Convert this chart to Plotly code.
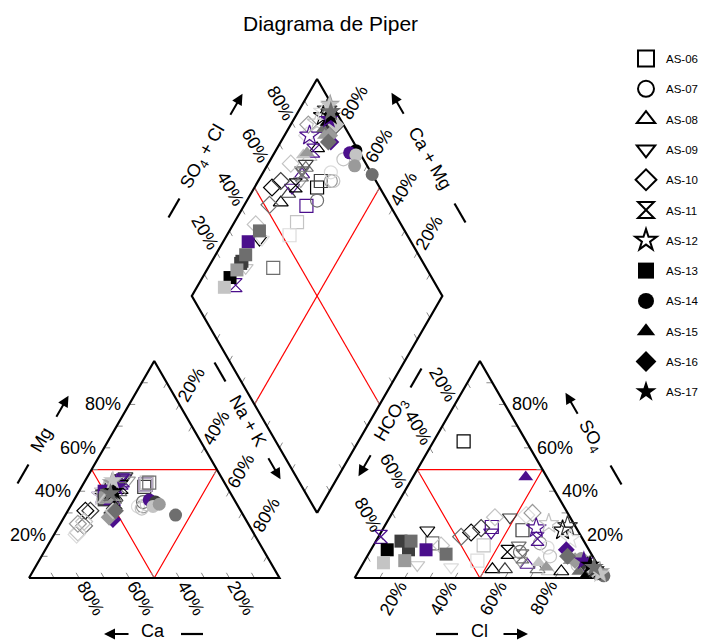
import math
import plotly.graph_objects as go

# ---------------- data (percent of meq) ----------------
SERIES = ["AS-06", "AS-07", "AS-08", "AS-09", "AS-10", "AS-11",
          "AS-12", "AS-13", "AS-14", "AS-15", "AS-16", "AS-17"]
SYMBOLS = ["square-open", "circle-open", "triangle-up-open", "triangle-down-open",
           "diamond-open", "hourglass-open", "star-open", "square", "circle",
           "triangle-up", "diamond", "star"]
CAMPAIGN_COLORS = ["#000000", "#3d3d3d", "#6e6e6e", "#9a9a9a", "#c4c4c4", "#dcdcdc", "#4b0f8c"]

CA = [[32, 33, 32, 31, 32, 30],
      [38, 40, 37, 36, 39],
      [50, 49, 49, 48, 47, 47],
      [40, 39, 38, 39, 38, 40, 38],
      [62, 60, 66, 70, 71, 68, 65],
      [40, 41, 42, 43],
      [52, 51, 50, 50, 52],
      [51, 52, 50, 50, 51, 52, 50, 51],
      [33, 34, 27, 32, 34, 31],
      [50, 52, 51, 49, 48, 47],
      [53, 50, 52, 54, 51, 50],
      [44, 45, 47, 46, 44, 48]]
MG = [[43, 42, 43, 44, 43, 44],
      [33, 33, 35, 34, 32],
      [36, 36, 35, 36, 38, 37],
      [46, 46, 47, 46, 47, 45, 45],
      [31, 31, 24, 21, 20, 25, 26],
      [45, 44, 42, 41],
      [38, 38, 40, 39, 38],
      [38, 37, 40, 38, 37, 36, 38, 37],
      [35, 36, 29, 35, 33, 34],
      [35, 36, 36, 37, 38, 37],
      [27, 32, 30, 28, 31, 31],
      [42, 44, 40, 40, 45, 39]]
SO4 = [[63, 22, 23.5, 15, 8, 16],
       [16, 14, 12, 10, 6],
       [4, 4, 6, 4, 3, 3],
       [22, 6, 5, 21, 28, 15, 8],
       [21, 23, 19, 28, 29, 30, 15],
       [19, 18, 12, 10],
       [23, 22, 25, 24, 18],
       [13, 7, 13, 11, 17, 13, 17, 8],
       [3, 5, 1, 2, 4, 9],
       [46.6, 7, 5, 3, 2, 8],
       [13, 6, 5, 8, 4, 10],
       [8, 3, 4, 6, 2, 5]]
CL = [[12, 56, 43, 44, 45, 23],
      [66, 70, 60, 73, 86],
      [53, 58, 66, 71, 76, 81],
      [18, 22, 36, 44, 48, 58, 62],
      [36, 39, 33, 42, 54, 56, 27],
      [1, 64, 55, 62],
      [61, 72, 65, 73, 77],
      [6.5, 8, 22, 31, 10, 15, 14, 16],
      [96, 91, 99, 96, 94, 86],
      [45, 70, 74, 88, 92, 82],
      [78, 90, 91, 84, 93, 80],
      [87.5, 96.5, 94, 91, 97, 93]]
CAMPAIGN = [[0, 1, 6, 4, 5, 2],
            [3, 5, 2, 4, 4],
            [0, 1, 6, 2, 4, 0],
            [0, 4, 5, 6, 1, 2, 3],
            [0, 1, 2, 4, 5, 3, 4],
            [6, 6, 0, 2],
            [6, 0, 4, 1, 5],
            [0, 4, 6, 2, 1, 1, 2, 3],
            [0, 6, 2, 1, 4, 3],
            [6, 4, 3, 2, 0, 3],
            [6, 0, 1, 3, 4, 2],
            [6, 3, 1, 0, 4, 2]]
TICK_LABELS = ["20%", "40%", "60%", "80%"]
TICK_VALUES = [20, 40, 60, 80]

# ---------------- geometry ----------------
OFF = 8                          # page body margin
W, H = 708 - OFF, 640 - OFF
S = 250.5                        # px per unit (triangle side)
X0, Y0 = 29 - OFF, 578 - OFF     # figure pixel of left triangle's left corner
GAP = 0.3
R3 = math.sqrt(3) / 2
B = (1 + GAP / 2, GAP / 2 * math.sqrt(3))
U = (-0.5, R3)
V = (0.5, R3)


def left_xy(ca, mg):
    nak = 100 - ca - mg
    return (nak + mg / 2) / 100, mg * R3 / 100


def right_xy(so4, cl):
    return 1 + GAP + (cl + so4 / 2) / 100, so4 * R3 / 100


def diamond_xy(cm, sc):
    return B[0] + U[0] * cm + V[0] * sc, B[1] + U[1] * cm + V[1] * sc


def pt(p, d, t):
    return (p[0] + d[0] * t, p[1] + d[1] * t)


fig = go.Figure()

# frames
tri_l = [(0, 0), (1, 0), (0.5, R3), (0, 0)]
tri_r = [(1 + GAP, 0), (2 + GAP, 0), (1.5 + GAP, R3), (1 + GAP, 0)]
dia = [B, pt(B, U, 1), (B[0], B[1] + 2 * R3), pt(B, V, 1), B]

# red inner lines
red_x, red_y = [], []
for poly in ([(0.25, R3 / 2), (0.75, R3 / 2), (0.5, 0), (0.25, R3 / 2)],
             [(1.25 + GAP, R3 / 2), (1.75 + GAP, R3 / 2), (1.5 + GAP, 0), (1.25 + GAP, R3 / 2)]):
    red_x += [p[0] for p in poly] + [None]
    red_y += [p[1] for p in poly] + [None]
for a, b in ((diamond_xy(1, 0.5), diamond_xy(0, 0.5)), (diamond_xy(0.5, 1), diamond_xy(0.5, 0))):
    red_x += [a[0], b[0], None]
    red_y += [a[1], b[1], None]
fig.add_trace(go.Scatter(x=red_x, y=red_y, mode="lines", line=dict(color="#ff0000", width=1.2),
                         hoverinfo="skip", showlegend=False))

# ticks (inside, along iso-lines, every 10 %)
L = 6 / S
tx, ty = [], []
for k in range(1, 10):
    f = k / 10
    segs = [
        ((f, 0), (-0.5, R3)),                                   # Ca base
        ((f / 2, f * R3), (1, 0)),                              # Mg left edge
        ((0.5 + f / 2, (1 - f) * R3), (-0.5, -R3)),            # Na+K right edge
        ((1 + GAP + f, 0), (0.5, R3)),                          # Cl base
        ((1 + GAP + 1 - f / 2, f * R3), (-1, 0)),               # SO4 right edge
        ((1 + GAP + (1 - f) / 2, (1 - f) * R3), (0.5, -R3)),    # HCO3 left edge
        (diamond_xy(1, f), (0.5, -R3)),                         # diamond upper-left
        (diamond_xy(f, 1), (-0.5, -R3)),                        # diamond upper-right
        (diamond_xy(f, 0), (0.5, R3)),                          # diamond lower-left
        (diamond_xy(0, f), (-0.5, R3)),                         # diamond lower-right
    ]
    for p, d in segs:
        q = pt(p, d, L)
        tx += [p[0], q[0], None]
        ty += [p[1], q[1], None]
fig.add_trace(go.Scatter(x=tx, y=ty, mode="lines", line=dict(color="#8a8a8a", width=1),
                         hoverinfo="skip", showlegend=False))

fx, fy = [], []
for poly in (tri_l, tri_r, dia):
    fx += [p[0] for p in poly] + [None]
    fy += [p[1] for p in poly] + [None]
fig.add_trace(go.Scatter(x=fx, y=fy, mode="lines", line=dict(color="#000000", width=2.2),
                         hoverinfo="skip", showlegend=False))

# data points
for i, name in enumerate(SERIES):
    xs, ys, cols = [], [], []
    for ca, mg, so4, cl, c in zip(CA[i], MG[i], SO4[i], CL[i], CAMPAIGN[i]):
        x1, y1 = left_xy(ca, mg)
        x2, y2 = right_xy(so4, cl)
        x3, y3 = diamond_xy((ca + mg) / 100, (so4 + cl) / 100)
        xs += [x1, x2, x3]
        ys += [y1, y2, y3]
        cols += [CAMPAIGN_COLORS[c]] * 3
    sym = SYMBOLS[i]
    size = 15 if "star" in sym else 13
    fig.add_trace(go.Scatter(x=xs, y=ys, mode="markers", name=name, showlegend=False,
                             marker=dict(symbol=sym, size=size, color=cols,
                                         line=dict(width=1.2, color=cols) if "open" in sym else dict(width=0))))

# legend entries
for i, name in enumerate(SERIES):
    sym = SYMBOLS[i]
    fig.add_trace(go.Scatter(x=[None], y=[None], mode="markers", name=name, legendgroup=name,
                             marker=dict(symbol=sym, size=16, color="#000000",
                                         line=dict(width=2, color="#000000") if "open" in sym else dict(width=0))))

# ---------------- annotations ----------------
ann = []
FONT = dict(family="Liberation Sans, Arial, sans-serif", size=18, color="#000000")
D = 23


def add_rot_labels(points, outward, angle):
    for (p, lab) in points:
        ann.append(dict(x=p[0], y=p[1], xref="x", yref="y", text=lab, showarrow=False,
                        textangle=angle, font=FONT, xanchor="center", yanchor="middle",
                        xshift=outward[0] * D, yshift=outward[1] * D))


# Ca base (Ca value v at x = 1 - v)
add_rot_labels([((1 - v / 100, 0), l) for v, l in zip(TICK_VALUES, TICK_LABELS)], (0.5, -R3), 60)
# Na+K right edge of left triangle
add_rot_labels([((0.5 + v / 200, (1 - v / 100) * R3), l) for v, l in zip(TICK_VALUES, TICK_LABELS)], (0.5, R3), -60)
# Cl base
add_rot_labels([((1 + GAP + v / 100, 0), l) for v, l in zip(TICK_VALUES, TICK_LABELS)], (-0.5, -R3), -60)
# HCO3 left edge of right triangle
add_rot_labels([((1 + GAP + (1 - v / 100) / 2, (1 - v / 100) * R3), l) for v, l in zip(TICK_VALUES, TICK_LABELS)], (-0.5, R3), 60)
# diamond SO4+Cl (upper-left edge)
add_rot_labels([(diamond_xy(1, v / 100), l) for v, l in zip(TICK_VALUES, TICK_LABELS)], (-0.5, R3), 60)
# diamond Ca+Mg (upper-right edge)
add_rot_labels([(diamond_xy(v / 100, 1), l) for v, l in zip(TICK_VALUES, TICK_LABELS)], (0.5, R3), -60)
# Mg (left edge, horizontal)
for v, l in zip(TICK_VALUES, TICK_LABELS):
    ann.append(dict(x=v / 200, y=v / 100 * R3, xref="x", yref="y", text=l, showarrow=False,
                    font=FONT, xanchor="right", yanchor="middle", xshift=-6))
# SO4 (right edge, horizontal)
for v, l in zip(TICK_VALUES, TICK_LABELS):
    ann.append(dict(x=1 + GAP + 1 - v / 200, y=v / 100 * R3, xref="x", yref="y", text=l, showarrow=False,
                    font=FONT, xanchor="left", yanchor="middle", xshift=5))


def P(px, py):
    # screen pixel -> paper fraction
    return (px - OFF) / W, 1 - (py - OFF) / H


shapes = []


def axis_title(text, tc, dc, ac, dirv, angle):
    x, y = P(*tc)
    ann.append(dict(x=x, y=y, xref="paper", yref="paper", text=text, showarrow=False,
                    textangle=angle, font=FONT, xanchor="center", yanchor="middle"))
    h = 11
    x0, y0 = P(dc[0] - dirv[0] * h, dc[1] - dirv[1] * h)
    x1, y1 = P(dc[0] + dirv[0] * h, dc[1] + dirv[1] * h)
    shapes.append(dict(type="line", xref="paper", yref="paper", x0=x0, y0=y0, x1=x1, y1=y1,
                       line=dict(color="#000000", width=2.2)))
    hl = 13
    hx, hy = P(ac[0] + dirv[0] * hl, ac[1] + dirv[1] * hl)
    ann.append(dict(x=hx, y=hy, xref="paper", yref="paper", text="", showarrow=True,
                    ax=-dirv[0] * 2 * hl, ay=-dirv[1] * 2 * hl, arrowhead=2, arrowsize=1.1,
                    arrowwidth=2, arrowcolor="#000000", standoff=0))


s3 = R3
axis_title("SO<sub>4</sub> + Cl", (203, 157), (174, 208), (236, 105), (0.5, -s3), -60)
axis_title("Ca + Mg", (430, 158), (460, 213), (398, 104), (-0.5, -s3), 60)
axis_title("Mg", (41, 440), (23, 474), (62, 407), (0.5, -s3), -60)
axis_title("Na + K", (248, 421), (220, 372), (274, 468), (0.5, s3), 60)
axis_title("Ca", (153, 631), (192, 634), (117, 634), (-1, 0), 0)
axis_title("Cl", (479, 631), (447, 634), (515, 634), (1, 0), 0)
axis_title("HCO<sub>3</sub>", (391, 420), (416, 378), (365, 465), (-0.5, s3), -60)
axis_title("SO<sub>4</sub>", (590, 436), (616, 475), (572, 404), (-0.5, -s3), 60)

tx_, ty_ = P(330, 23)
ann.append(dict(x=tx_, y=ty_, xref="paper", yref="paper", text="Diagrama de Piper", showarrow=False,
                font=dict(family="Liberation Sans, Arial, sans-serif", size=21, color="#000000"),
                xanchor="center", yanchor="middle"))

lx, ly = P(626, 44)
fig.update_layout(
    width=W, height=H, autosize=False,
    margin=dict(l=0, r=0, t=0, b=0, pad=0, autoexpand=False),
    paper_bgcolor="#ffffff", plot_bgcolor="#ffffff",
    xaxis=dict(range=[-X0 / S, (W - X0) / S], visible=False, fixedrange=True),
    yaxis=dict(range=[(Y0 - H) / S, Y0 / S], visible=False, fixedrange=True),
    annotations=ann, shapes=shapes,
    showlegend=True,
    legend=dict(x=lx, y=ly, xanchor="left", yanchor="top",
                font=dict(family="Liberation Sans, Arial, sans-serif", size=11.5, color="#000000"),
                tracegroupgap=11.3, bgcolor="rgba(0,0,0,0)", itemclick=False, itemdoubleclick=False),
)

fig.write_html("out.html")
